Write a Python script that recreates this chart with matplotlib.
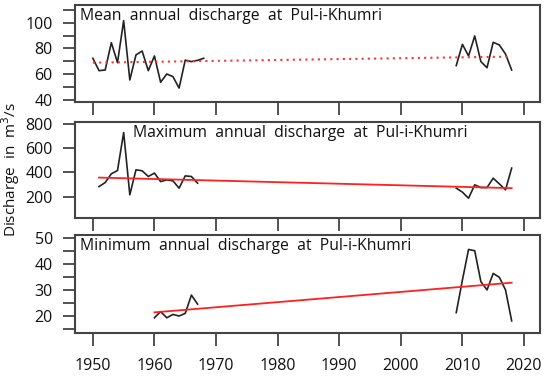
import matplotlib
matplotlib.use("Agg")
import matplotlib.pyplot as plt
from matplotlib.ticker import FixedLocator, FuncFormatter

# ---------------- data ----------------
mean_years_a = list(range(1950, 1969))
mean_vals_a = [72.4, 62.8, 63.3, 84.5, 69.0, 101.6, 55.6, 75.0, 78.0, 62.8,
               74.2, 53.8, 60.2, 58.2, 49.3, 71.0, 69.8, 70.8, 72.4]
mean_years_b = list(range(2009, 2019))
mean_vals_b = [66.7, 83.2, 74.2, 89.7, 69.8, 65.1, 84.8, 82.7, 75.7, 63.3]
mean_trend_years = [1950, 2018]
mean_trend_vals = [69.0, 73.7]

max_years_a = list(range(1951, 1968))
max_vals_a = [283, 316, 388, 415, 728, 215, 421, 413, 366, 394,
              324, 338, 330, 270, 371, 366, 311]
max_years_b = list(range(2009, 2019))
max_vals_b = [270, 237, 187, 297, 275, 275, 352, 305, 256, 435]
max_trend_years = [1951, 2018]
max_trend_vals = [357, 270]

min_years_a = list(range(1960, 1968))
min_vals_a = [19.2, 21.6, 19.2, 20.5, 19.9, 20.9, 28.0, 24.5]
min_years_b = list(range(2009, 2019))
min_vals_b = [21.2, 33.8, 45.7, 45.2, 33.2, 30.0, 36.4, 34.9, 30.0, 18.0]
min_trend_years = [1960, 2018]
min_trend_vals = [21.3, 32.8]

titles = ["Mean  annual  discharge  at  Pul-i-Khumri",
          "Maximum  annual  discharge  at  Pul-i-Khumri",
          "Minimum  annual  discharge  at  Pul-i-Khumri"]
x_ticks = [1950, 1960, 1970, 1980, 1990, 2000, 2010, 2020]
mean_yticks = [40, 50, 60, 70, 80, 90, 100, 110]
mean_ylabels = [40, 60, 80, 100]
max_yticks = [200, 400, 600, 800]
max_ylabels = [200, 400, 600, 800]
min_yticks = [15, 20, 25, 30, 35, 40, 45, 50]
min_ylabels = [20, 30, 40, 50]
ylabel = "Discharge  in  m$^3$/s"

# ---------------- plot ----------------
plt.rcParams['font.family'] = ['Open Sans', 'DejaVu Sans']
fig = plt.figure(figsize=(5.5, 3.78), dpi=100)

L, R = 75 / 550, 540 / 550
H = 378
boxes = [(5, 102), (122, 218), (235, 333)]
ylims = [(38.5, 113.7), (24, 815), (13.3, 51.3)]
title_x = [0.01, 0.125, 0.01]
spine_col = '#444444'

panels = [
    (mean_years_a, mean_vals_a, mean_years_b, mean_vals_b, mean_trend_years, mean_trend_vals, ':', mean_yticks, mean_ylabels),
    (max_years_a, max_vals_a, max_years_b, max_vals_b, max_trend_years, max_trend_vals, '-', max_yticks, max_ylabels),
    (min_years_a, min_vals_a, min_years_b, min_vals_b, min_trend_years, min_trend_vals, '-', min_yticks, min_ylabels),
]

axes = []
for i, (top, bot) in enumerate(boxes):
    ax = fig.add_axes([L, 1 - bot / H, R - L, (bot - top) / H])
    ya, va, yb, vb, ty, tv, ls, yt, yl = panels[i]
    ax.plot(ya, va, color='#222222', lw=1.2)
    ax.plot(yb, vb, color='#222222', lw=1.2)
    if ls == ':':
        ax.plot(ty, tv, color='#ff3333', lw=1.5, ls=(0, (1, 2)))
    else:
        ax.plot(ty, tv, color='#ff2020', lw=1.3)
    ax.set_xlim(1947.1, 2022.6)
    ax.set_ylim(*ylims[i])
    ax.xaxis.set_major_locator(FixedLocator(x_ticks))
    ax.yaxis.set_major_locator(FixedLocator(yt))
    labs = set(yl)
    ax.yaxis.set_major_formatter(FuncFormatter(lambda v, p, labs=labs: f"{int(round(v))}" if int(round(v)) in labs else ""))
    ax.tick_params(axis='both', direction='out', length=9, width=1.3, color=spine_col,
                   labelsize=11.5, colors='#111111')
    ax.tick_params(axis='y', pad=7)
    ax.tick_params(axis='x', pad=9)
    if i < 2:
        ax.tick_params(axis='x', labelbottom=False)
    for s in ax.spines.values():
        s.set_color(spine_col)
        s.set_linewidth(1.5)
    ax.text(title_x[i], 0.965, titles[i], transform=ax.transAxes, ha='left', va='top',
            fontsize=11.3, color='#111111')
    axes.append(ax)

fig.text(0.02, 1 - 169 / H, ylabel, rotation=90, ha='center', va='center',
         fontsize=11, color='#111111')

fig.savefig("out.png", dpi=100)
